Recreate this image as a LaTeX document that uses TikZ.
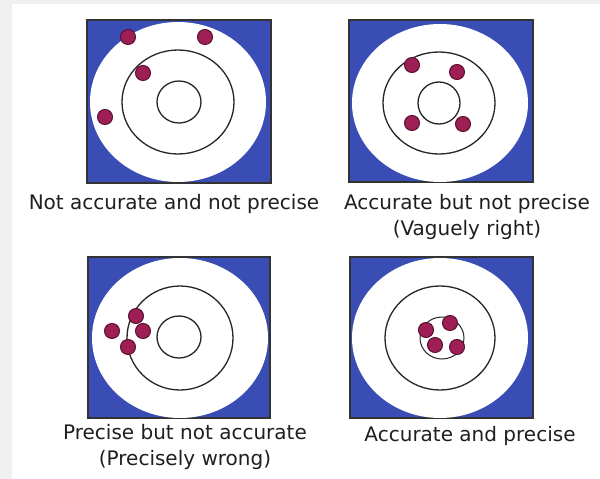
\documentclass[tikz,border=0pt]{standalone}
\usepackage{fontspec}
\setmainfont{DejaVu Sans}
\definecolor{tblue}{HTML}{3A4DB5}
\definecolor{dotfill}{HTML}{9E1F55}
\definecolor{dotline}{HTML}{5A1030}
\definecolor{edgegrey}{HTML}{F0F0F0}
\begin{document}
\begin{tikzpicture}[x=1pt,y=-1pt,
  bluebox/.style={fill=tblue,draw=black!80,line width=1.2pt},
  face/.style={fill=white},
  ring/.style={draw=black!85,line width=1.3pt},
  shot/.style={fill=dotfill,draw=dotline,line width=1pt},
  caption/.style={font=\fontsize{20}{26}\selectfont,align=center,text=black!88,inner sep=0pt}]
\useasboundingbox (0,0) rectangle (600,479);
\fill[white] (0,0) rectangle (600,479);
\fill[edgegrey] (0,0) rectangle (12,479);
\fill[edgegrey] (0,0) rectangle (600,4);
% panel 1
\draw[bluebox] (87,20) rectangle (271,183);
\fill[face] (178,102) ellipse [x radius=88,y radius=80];
\draw[ring] (178,102) ellipse [x radius=56,y radius=52];
\draw[ring] (179,102) ellipse [x radius=22,y radius=21];
\foreach \p in {(128,37),(205,37),(143,73),(105,117)} \draw[shot] \p circle (7.5);
\node[caption] (c1) at (174,204) {Not accurate and not precise};
% panel 2
\draw[bluebox] (349,20) rectangle (533,182);
\fill[face] (440,103) ellipse [x radius=88,y radius=79];
\draw[ring] (439,103) ellipse [x radius=56,y radius=51];
\draw[ring] (439,103) ellipse [x radius=21,y radius=21];
\foreach \p in {(412,65),(457,72),(412,123),(463,124)} \draw[shot] \p circle (7.5);
\node[caption] (c2) at (467,217) {Accurate but not precise\\(Vaguely right)};
% panel 3
\draw[bluebox] (88,257) rectangle (270,418);
\fill[face] (180,338) ellipse [x radius=88,y radius=80];
\draw[ring] (180,338) ellipse [x radius=53,y radius=52];
\draw[ring] (179,337) ellipse [x radius=22,y radius=21];
\foreach \p in {(136,316),(143,331),(112,331),(128,347)} \draw[shot] \p circle (7.5);
\node[caption] (c3) at (185,447) {Precise but not accurate\\(Precisely wrong)};
% panel 4
\draw[bluebox] (350,257) rectangle (533,418);
\fill[face] (440,338) ellipse [x radius=88,y radius=80];
\draw[ring] (440,338) ellipse [x radius=55,y radius=52];
\draw[ring,line width=1pt] (442,338) ellipse [x radius=22,y radius=21];
\foreach \p in {(426,330),(450,323),(435,345),(457,347)} \draw[shot] \p circle (7.5);
\node[caption] (c4) at (470,436) {Accurate and precise};
\end{tikzpicture}
\end{document}
